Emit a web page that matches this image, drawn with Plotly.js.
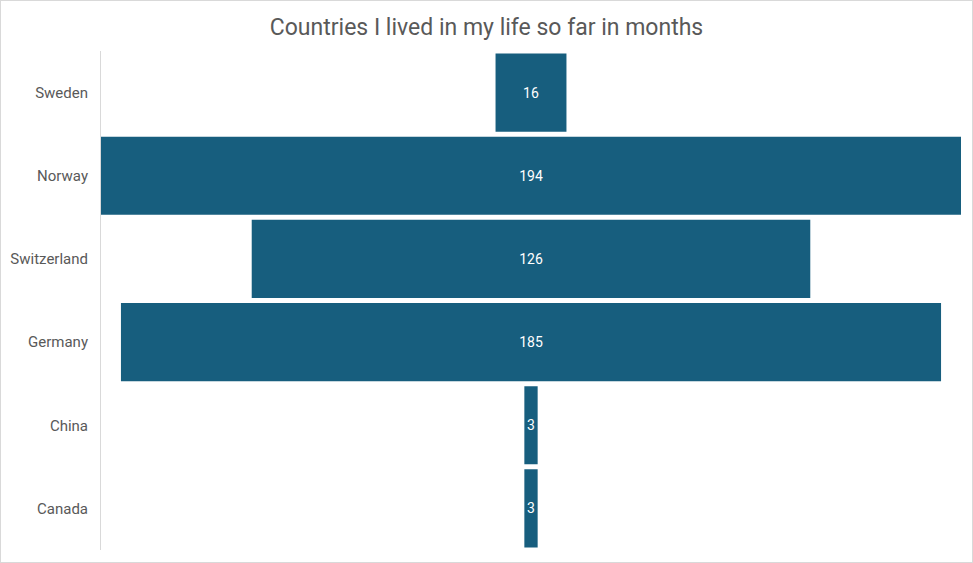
<!DOCTYPE html>
<html>
<head>
<meta charset="utf-8">
<script src="https://cdn.plot.ly/plotly-3.0.1.min.js"></script>
<style>
html,body{margin:0;padding:0;background:#fff;}
#chart{width:971px;height:561px;border:1px solid #d9d9d9;}
</style>
</head>
<body>
<div id="chart"></div>
<script>
const countries = ["Sweden", "Norway", "Switzerland", "Germany", "China", "Canada"];
const months = [16, 194, 126, 185, 3, 3];

const trace = {
  type: "funnel",
  y: countries,
  x: months,
  textinfo: "value",
  textposition: "inside",
  insidetextanchor: "middle",
  textangle: 0,
  constraintext: "none",
  textfont: {family: "Roboto, 'Open Sans', sans-serif", size: 14, color: "#ffffff"},
  marker: {color: "#175E7E", line: {width: 0}},
  connector: {visible: false},
  hoverinfo: "y+x"
};

const layout = {
  width: 971,
  height: 561,
  margin: {l: 100, r: 11, t: 50, b: 12},
  paper_bgcolor: "#ffffff",
  plot_bgcolor: "#ffffff",
  showlegend: false,
  funnelgap: 0.06,
  title: {
    text: "Countries I lived in my life so far in months",
    font: {family: "Roboto, 'Open Sans', sans-serif", size: 23, color: "#595959"},
    x: 0.5, xanchor: "center",
    yref: "container", y: 1 - 26/561, yanchor: "middle"
  },
  xaxis: {
    range: [-97, 97],
    showgrid: false, zeroline: false, showticklabels: false, showline: false, fixedrange: true
  },
  yaxis: {
    showgrid: false, zeroline: false,
    showline: true, linecolor: "#d9d9d9", linewidth: 1,
    ticks: "", ticklabelstandoff: 9,
    tickfont: {family: "Roboto, 'Open Sans', sans-serif", size: 15, color: "#595959"}
  }
};

Plotly.newPlot("chart", [trace], layout, {displayModeBar: false, staticPlot: true});
</script>
</body>
</html>
